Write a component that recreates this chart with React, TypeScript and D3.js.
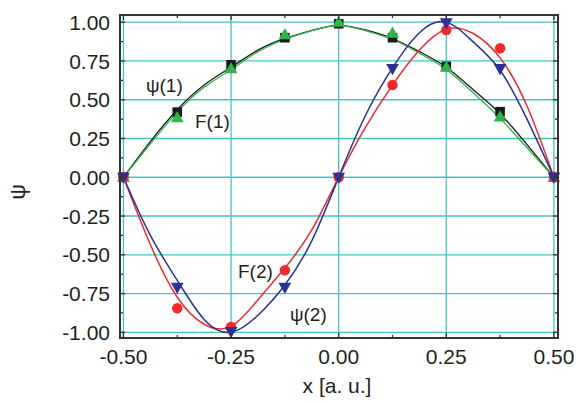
import React from "react";
import * as d3 from "d3";

// Dense x grid for the curves (a.u.)
const curveX = [-0.5, -0.4375, -0.375, -0.3125, -0.25, -0.1875, -0.125, -0.0625, 0, 0.0625, 0.125, 0.1875, 0.25, 0.3125, 0.375, 0.4375, 0.5];
const psi1Curve = [0, 0.23, 0.435, 0.595, 0.71, 0.82, 0.895, 0.947, 0.98, 0.95, 0.895, 0.81, 0.71, 0.565, 0.41, 0.21, 0];
const f1Curve = [0, 0.215, 0.42, 0.58, 0.695, 0.81, 0.89, 0.945, 0.98, 0.945, 0.89, 0.8, 0.695, 0.545, 0.38, 0.19, 0];
const psi2Curve = [0, -0.375, -0.665, -0.917, -1.0, -0.89, -0.695, -0.41, 0, 0.4, 0.705, 0.932, 1.0, 0.873, 0.69, 0.375, 0];
const f2Curve = [0, -0.434, -0.774, -0.948, -0.962, -0.79, -0.585, -0.34, 0, 0.323, 0.594, 0.82, 0.955, 0.927, 0.77, 0.46, 0];

// Marker points
const markerX = [-0.5, -0.375, -0.25, -0.125, 0, 0.125, 0.25, 0.375, 0.5];
const psi1Pts = [0, 0.42, 0.725, 0.9, 0.99, 0.9, 0.715, 0.423, 0];
const f1Pts = [0, 0.385, 0.7, 0.92, 1.0, 0.93, 0.71, 0.39, 0];
const psi2Pts = [0, -0.71, -0.995, -0.71, 0, 0.7, 0.995, 0.7, 0];
const f2Pts = [0, -0.845, -0.965, -0.6, 0, 0.595, 0.95, 0.832, 0];

const xTicks = [-0.5, -0.25, 0, 0.25, 0.5];
const xTickLabels = ["-0.50", "-0.25", "0.00", "0.25", "0.50"];
const xMinor = [-0.375, -0.125, 0.125, 0.375];
const yTicks = [-1, -0.75, -0.5, -0.25, 0, 0.25, 0.5, 0.75, 1];
const yTickLabels = ["-1.00", "-0.75", "-0.50", "-0.25", "0.00", "0.25", "0.50", "0.75", "1.00"];
const yMinor = [-0.875, -0.625, -0.375, -0.125, 0.125, 0.375, 0.625, 0.875];

const W = 579, H = 403;
const FONT = "'Liberation Sans', Arial, sans-serif";
const TXT = "#231f20";
const GRID = "#45c4c4";
const BLACK = "#1a1a1a";
const GREEN = "#2fb34a";
const BLUE = "#2e3192";
const RED = "#ee2a2e";

export default function App() {
  const x = d3.scaleLinear().domain([-0.508, 0.5095]).range([120, 558]);
  const y = d3.scaleLinear().domain([-1.0367, 1.0465]).range([338, 15]);
  const x0 = x.range()[0], x1 = x.range()[1];
  const y0 = y.range()[1], y1 = y.range()[0];

  const line = d3
    .line<[number, number]>()
    .x((d) => x(d[0]))
    .y((d) => y(d[1]))
    .curve(d3.curveNatural);

  const mk = (vals: number[]) => curveX.map((v, i) => [v, vals[i]] as [number, number]);

  const triUp = (cx: number, cy: number, s: number) =>
    `M${cx},${cy - s * 0.6} L${cx + s * 0.58},${cy + s * 0.42} L${cx - s * 0.58},${cy + s * 0.42} Z`;
  const triDown = (cx: number, cy: number, s: number) =>
    `M${cx},${cy + s * 0.6} L${cx + s * 0.58},${cy - s * 0.42} L${cx - s * 0.58},${cy - s * 0.42} Z`;

  return (
    <svg width={W} height={H} style={{ position: "absolute", left: 0, top: 0, background: "#fff" }} fontFamily={FONT}>
      {/* grid */}
      {xTicks.map((t) => (
        <line key={"gx" + t} x1={x(t)} x2={x(t)} y1={y0} y2={y1} stroke={GRID} strokeWidth={1.3} />
      ))}
      {yTicks.map((t) => (
        <line key={"gy" + t} x1={x0} x2={x1} y1={y(t)} y2={y(t)} stroke={GRID} strokeWidth={1.3} />
      ))}

      {/* curves */}
      <path d={line(mk(psi1Curve)) || ""} fill="none" stroke={BLACK} strokeWidth={1.3} />
      <path d={line(mk(f1Curve)) || ""} fill="none" stroke={GREEN} strokeWidth={1.3} />
      <path d={line(mk(f2Curve)) || ""} fill="none" stroke={RED} strokeWidth={1.5} />
      <path d={line(mk(psi2Curve)) || ""} fill="none" stroke={BLUE} strokeWidth={1.5} />

      {/* markers */}
      {markerX.map((v, i) => (
        <rect key={"s" + i} x={x(v) - 4.8} y={y(psi1Pts[i]) - 4.8} width={9.6} height={9.6} fill={BLACK} />
      ))}
      {markerX.map((v, i) => (
        <path key={"tu" + i} d={triUp(x(v), y(f1Pts[i]), 11)} fill={GREEN} />
      ))}
      {markerX.map((v, i) => (
        <circle key={"c" + i} cx={x(v)} cy={y(f2Pts[i])} r={5.2} fill={RED} />
      ))}
      {markerX.map((v, i) => (
        <path key={"td" + i} d={triDown(x(v), y(psi2Pts[i]), 11)} fill={BLUE} />
      ))}

      {/* ticks (inward) */}
      {xTicks.map((t) => (
        <g key={"tx" + t}>
          <line x1={x(t)} x2={x(t)} y1={y1} y2={y1 - 5} stroke="#333" strokeWidth={1.3} />
          <line x1={x(t)} x2={x(t)} y1={y0} y2={y0 + 5} stroke="#333" strokeWidth={1.3} />
        </g>
      ))}
      {xMinor.map((t) => (
        <g key={"mx" + t}>
          <line x1={x(t)} x2={x(t)} y1={y1} y2={y1 - 3} stroke="#333" strokeWidth={1.3} />
          <line x1={x(t)} x2={x(t)} y1={y0} y2={y0 + 3} stroke="#333" strokeWidth={1.3} />
        </g>
      ))}
      {yTicks.map((t) => (
        <g key={"ty" + t}>
          <line x1={x0} x2={x0 + 5} y1={y(t)} y2={y(t)} stroke="#333" strokeWidth={1.3} />
          <line x1={x1} x2={x1 - 5} y1={y(t)} y2={y(t)} stroke="#333" strokeWidth={1.3} />
        </g>
      ))}
      {yMinor.map((t) => (
        <g key={"my" + t}>
          <line x1={x0} x2={x0 + 3} y1={y(t)} y2={y(t)} stroke="#333" strokeWidth={1.3} />
          <line x1={x1} x2={x1 - 3} y1={y(t)} y2={y(t)} stroke="#333" strokeWidth={1.3} />
        </g>
      ))}

      {/* frame */}
      <rect x={x0} y={y0} width={x1 - x0} height={y1 - y0} fill="none" stroke="#333" strokeWidth={2} />

      {/* tick labels */}
      {yTicks.map((t, i) => (
        <text key={"ly" + t} x={110} y={y(t)} dy="0.36em" textAnchor="end" fontSize={21} fill={TXT}>
          {yTickLabels[i]}
        </text>
      ))}
      {xTicks.map((t, i) => (
        <text key={"lx" + t} x={x(t)} y={364} textAnchor="middle" fontSize={21} fill={TXT}>
          {xTickLabels[i]}
        </text>
      ))}

      {/* axis titles */}
      <text x={337} y={393} textAnchor="middle" fontSize={21} fill={TXT}>x [a. u.]</text>
      <text transform="translate(25,192) rotate(-90)" textAnchor="middle" fontSize={22} fill={TXT}>ψ</text>

      {/* curve labels */}
      <text x={146} y={92} fontSize={19} fill={TXT}>ψ(1)</text>
      <text x={195} y={128} fontSize={19} fill={TXT}>F(1)</text>
      <text x={238} y={278} fontSize={19} fill={TXT}>F(2)</text>
      <text x={290} y={321} fontSize={19} fill={TXT}>ψ(2)</text>
    </svg>
  );
}
